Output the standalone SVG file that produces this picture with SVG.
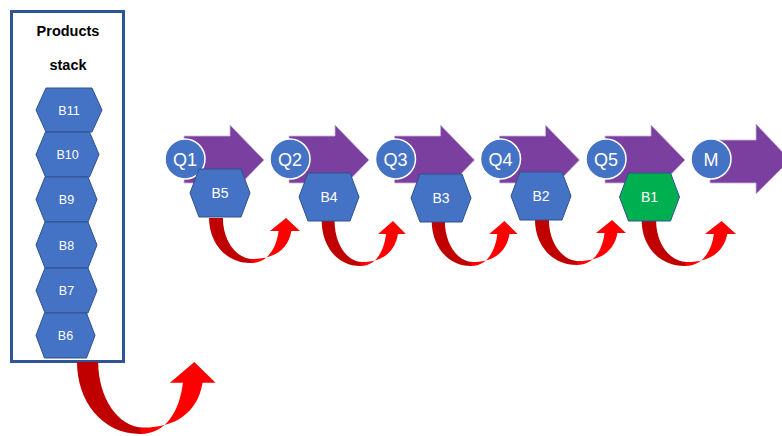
<svg xmlns="http://www.w3.org/2000/svg" width="782" height="436" viewBox="0 0 782 436">
<defs>
<linearGradient id="redg" x1="0" y1="0" x2="1" y2="0">
<stop offset="0" stop-color="#C00000"/>
<stop offset="0.45" stop-color="#C00000"/>
<stop offset="0.47" stop-color="#FF0000"/>
<stop offset="1" stop-color="#FF0000"/>
</linearGradient>
<path id="uarrow" d="M0 0 C0 24 15 45 39 45 C55 45 63 30 65 13 L57 13 L72 0 L85 13 L77 13 C74 32 60 41 41 41 C25 41 13 22 13 0 Z" fill="url(#redg)"/>
<style>
.hex{fill:#4472C4;stroke:#2F528F;stroke-width:1}
.hexg{fill:#00B050;stroke:#2F528F;stroke-width:1}
.ht{font-family:"Liberation Sans",Arial,sans-serif;font-size:14px;fill:#ffffff;text-anchor:middle}
.st{font-family:"Liberation Sans",Arial,sans-serif;font-size:12.5px;fill:#ffffff;text-anchor:middle}
.pa{fill:#7B3FA0;stroke:#C9B5DC;stroke-width:0.8}
.qc{fill:#4472C4;stroke:#ffffff;stroke-width:1.5}
.qt{font-family:"Liberation Sans",Arial,sans-serif;font-size:18px;fill:#ffffff;text-anchor:middle}
.tt{font-family:"Liberation Sans",Arial,sans-serif;font-size:14.5px;font-weight:bold;fill:#000000;text-anchor:middle}
</style>
</defs>
<rect width="782" height="436" fill="#ffffff"/>

<g id="stack">
<rect x="11.5" y="11.5" width="112" height="350" fill="#ffffff" stroke="#2F5597" stroke-width="3"/>
<text class="tt" x="68" y="36">Products</text>
<text class="tt" x="68" y="70">stack</text>
</g>
<g id="B11"><polygon class="hex" points="36,110 46,88 92,88 102,110 92,132 46,132"/><text class="st" x="69" y="114.5">B11</text></g>
<g id="B10"><polygon class="hex" points="36,154.5 45.5,132 89.5,132 99,154.5 89.5,177 45.5,177"/><text class="st" x="67.5" y="159">B10</text></g>
<g id="B9"><polygon class="hex" points="36,199.5 45,177 88,177 97,199.5 88,222 45,222"/><text class="st" x="66.5" y="204">B9</text></g>
<g id="B8"><polygon class="hex" points="36,245 45,222 88,222 97,245 88,268 45,268"/><text class="st" x="66.5" y="249.5">B8</text></g>
<g id="B7"><polygon class="hex" points="36,290.5 45,268 88,268 97,290.5 88,313 45,313"/><text class="st" x="66.5" y="295">B7</text></g>
<g id="B6"><polygon class="hex" points="36,335.5 44.5,313 86.5,313 95,335.5 86.5,358 44.5,358"/><text class="st" x="65.5" y="340">B6</text></g>

<g id="Q1"><path class="pa" d="M184 136 H230 V125 L264 160 L230 195 V183 H184 Z"/><circle class="qc" cx="185" cy="159" r="20"/><text class="qt" x="185" y="165.5">Q1</text></g>
<g id="Q2"><path class="pa" d="M289 136 H335 V125 L369 160 L335 195 V183 H289 Z"/><circle class="qc" cx="290" cy="159" r="20"/><text class="qt" x="290" y="165.5">Q2</text></g>
<g id="Q3"><path class="pa" d="M394.5 136 H440.5 V125 L474.5 160 L440.5 195 V183 H394.5 Z"/><circle class="qc" cx="395.5" cy="159" r="20"/><text class="qt" x="395.5" y="165.5">Q3</text></g>
<g id="Q4"><path class="pa" d="M499.5 136 H545.5 V125 L579.5 160 L545.5 195 V183 H499.5 Z"/><circle class="qc" cx="500.5" cy="159" r="20"/><text class="qt" x="500.5" y="165.5">Q4</text></g>
<g id="Q5"><path class="pa" d="M605 136 H651 V125 L685 160 L651 195 V183 H605 Z"/><circle class="qc" cx="606" cy="159" r="20"/><text class="qt" x="606" y="165.5">Q5</text></g>
<g id="M"><path class="pa" d="M710 140 H756 V124 L790 160 L756 194 V183 H710 Z"/><circle class="qc" cx="711" cy="159" r="20"/><text class="qt" x="711" y="165.5">M</text></g>

<g id="connectors">
<use href="#uarrow" transform="translate(77,362) scale(1.63,1.6)"/>
<use href="#uarrow" transform="translate(209,218) scale(1.07,1)"/>
<use href="#uarrow" transform="translate(321.7,221) scale(0.99,1)"/>
<use href="#uarrow" transform="translate(431.7,221) scale(1.01,1)"/>
<use href="#uarrow" transform="translate(535,220) scale(1.07,1)"/>
<use href="#uarrow" transform="translate(641.7,221) scale(1.11,1)"/>
</g>

<g id="B5"><polygon class="hex" points="190,193 199,169 241,169 250,193 241,217 199,217"/><text class="ht" x="220" y="198">B5</text></g>
<g id="B4"><polygon class="hex" points="299,197 308,173 350,173 359,197 350,221 308,221"/><text class="ht" x="329" y="202">B4</text></g>
<g id="B3"><polygon class="hex" points="411,198 420,174 462,174 471,198 462,222 420,222"/><text class="ht" x="441" y="203">B3</text></g>
<g id="B2"><polygon class="hex" points="511,196 520,172 562,172 571,196 562,220 520,220"/><text class="ht" x="541" y="201">B2</text></g>
<g id="B1"><polygon class="hexg" points="619.5,197 628.5,173 670.5,173 679.5,197 670.5,221 628.5,221"/><text class="ht" x="649.5" y="202">B1</text></g>
</svg>
